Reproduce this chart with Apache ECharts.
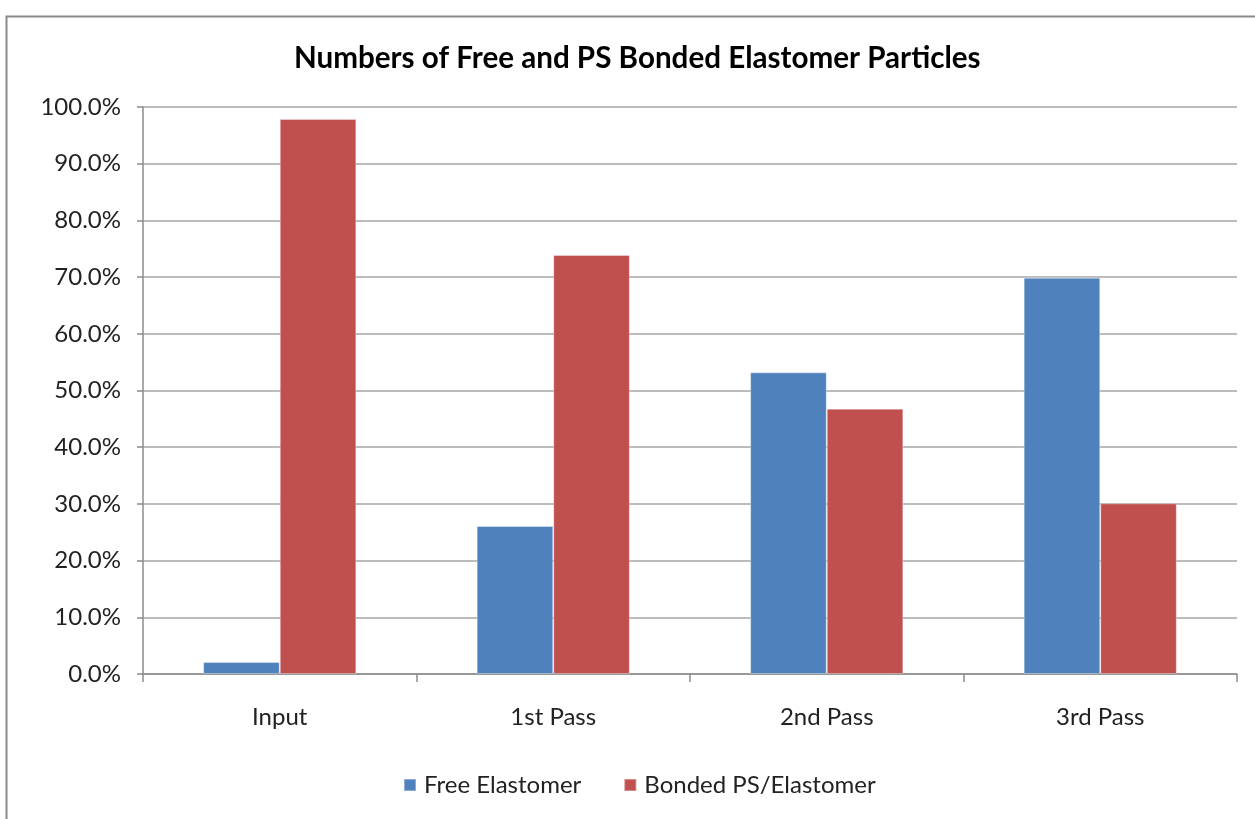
<!DOCTYPE html>
<html>
<head>
<meta charset="utf-8">
<script src="https://cdn.jsdelivr.net/npm/echarts@6/dist/echarts.min.js"></script>
<style>html,body{margin:0;padding:0;background:#fff}#c{width:1255px;height:819px}</style>
</head>
<body>
<div id="c"></div>
<script>
const categories = ['Input', '1st Pass', '2nd Pass', '3rd Pass'];
const freeElastomer = [2.1, 26.1, 53.2, 69.9];
const bondedPS = [97.9, 73.9, 46.8, 30.1];
const seriesNames = ['Free Elastomer', 'Bonded PS/Elastomer'];
const titleText = 'Numbers of Free and PS Bonded Elastomer Particles';

const FONT = 'Lato';
const chart = echarts.init(document.getElementById('c'));
chart.setOption({
  backgroundColor: '#fff',
  animation: false,
  title: {
    text: titleText, left: 289, top: 38,
    textStyle: { fontFamily: FONT, fontWeight: 'bold', fontSize: 29.6, color: '#000' }
  },
  graphic: [{
    type: 'rect', left: 4, top: 14, shape: { width: 1300, height: 900 },
    style: { fill: 'none', stroke: '#8a8a8a', lineWidth: 2 }, silent: true
  }],
  legend: {
    data: seriesNames, bottom: 17, left: 398, itemWidth: 12, itemHeight: 12,
    itemGap: 42, icon: 'rect',
    textStyle: { fontFamily: FONT, fontSize: 24, color: '#222', padding: [0, 0, 0, 3] }
  },
  grid: { left: 143, right: 18, top: 107, bottom: 145 },
  xAxis: {
    type: 'category', data: categories,
    axisLine: { lineStyle: { color: '#8c8c8c', width: 1.5 } },
    axisTick: { show: true, length: 8, lineStyle: { color: '#8c8c8c', width: 1.5 } },
    axisLabel: { fontFamily: FONT, fontSize: 24, color: '#222', margin: 31 }
  },
  yAxis: {
    type: 'value', min: 0, max: 100, interval: 10,
    axisLine: { show: true, lineStyle: { color: '#8c8c8c', width: 1.5 } },
    axisTick: { show: true, length: 6, inside: false, lineStyle: { color: '#8c8c8c', width: 1.5 } },
    splitLine: { lineStyle: { color: '#a6a6a6', width: 1.5 } },
    axisLabel: { fontFamily: FONT, fontSize: 24, color: '#222', margin: 22,
      formatter: v => v.toFixed(1) + '%' }
  },
  series: [
    { name: seriesNames[0], type: 'bar', data: freeElastomer, barGap: '0%', barCategoryGap: '44%',
      itemStyle: { color: '#4F81BD', borderColor: 'rgba(255,255,255,0.35)', borderWidth: 1 } },
    { name: seriesNames[1], type: 'bar', data: bondedPS,
      itemStyle: { color: '#C0504D', borderColor: 'rgba(255,255,255,0.35)', borderWidth: 1 } }
  ]
});
</script>
</body>
</html>
